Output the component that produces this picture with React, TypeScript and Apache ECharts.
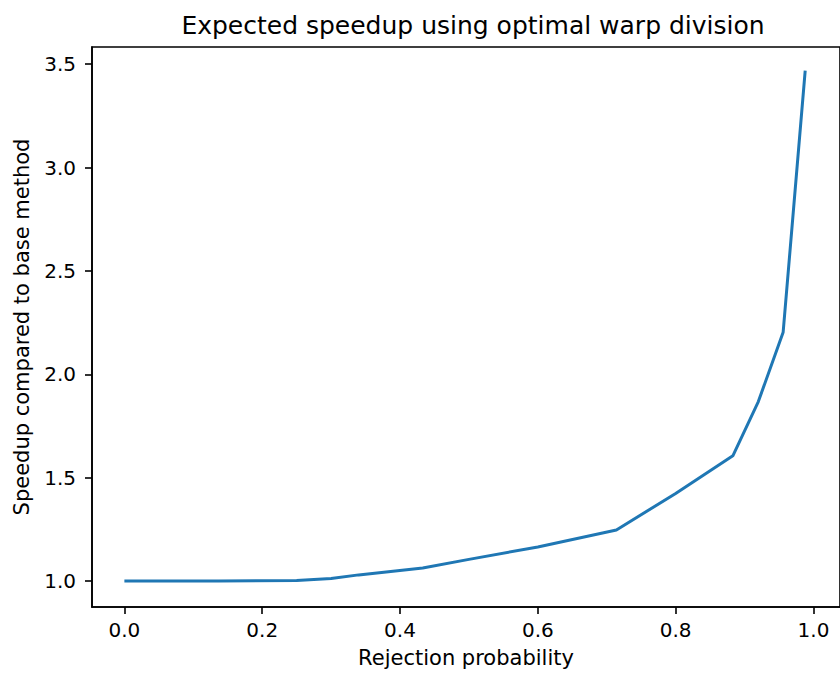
import React, { useEffect, useRef } from "react";
import * as echarts from "echarts";

const titleText = "Expected speedup using optimal warp division";
const xName = "Rejection probability";
const yName = "Speedup compared to base method";

const rejectionProb = [0.0, 0.137, 0.25, 0.3, 0.34, 0.433, 0.5, 0.6, 0.714, 0.8, 0.883, 0.92, 0.956, 0.988];
const speedup = [1.0, 1.0, 1.003, 1.012, 1.03, 1.063, 1.105, 1.165, 1.247, 1.424, 1.606, 1.868, 2.204, 3.469];

const xTicks = [0.0, 0.2, 0.4, 0.6, 0.8, 1.0];
const yTicks = [1.0, 1.5, 2.0, 2.5, 3.0, 3.5];

const FONT = "DejaVu Sans";

export default function App() {
  const ref = useRef<HTMLDivElement>(null);
  useEffect(() => {
    if (!ref.current) return;
    const chart = echarts.init(ref.current, undefined, { renderer: "svg" });
    chart.setOption({
      animation: false,
      backgroundColor: "#ffffff",
      title: {
        text: titleText,
        left: 468,
        top: 8,
        textAlign: "center",
        textStyle: { fontFamily: FONT, fontSize: 25, fontWeight: "normal", color: "#000" },
      },
      grid: {
        left: 92,
        top: 47,
        width: 753,
        height: 562,
        show: true,
        borderColor: "#000",
        borderWidth: 1.6,
        backgroundColor: "transparent",
      },
      xAxis: {
        type: "value",
        min: -0.047,
        max: 1.0385,
        name: xName,
        nameLocation: "middle",
        nameGap: 40,
        nameTextStyle: { fontFamily: FONT, fontSize: 21, color: "#000" },
        axisLine: { show: true, onZero: false, lineStyle: { color: "#000", width: 1.6 } },
        axisTick: { show: true, inside: false, length: 7, customValues: xTicks, lineStyle: { color: "#000", width: 1.6 } },
        axisLabel: {
          customValues: xTicks,
          formatter: (v: number) => v.toFixed(1),
          fontFamily: FONT,
          fontSize: 20,
          color: "#000",
          margin: 13,
        },
        splitLine: { show: false },
      },
      yAxis: {
        type: "value",
        min: 0.8747,
        max: 3.583,
        name: yName,
        nameLocation: "middle",
        nameGap: 60,
        nameTextStyle: { fontFamily: FONT, fontSize: 21, color: "#000" },
        axisLine: { show: true, onZero: false, lineStyle: { color: "#000", width: 1.6 } },
        axisTick: { show: true, inside: false, length: 7, customValues: yTicks, lineStyle: { color: "#000", width: 1.6 } },
        axisLabel: {
          customValues: yTicks,
          formatter: (v: number) => v.toFixed(1),
          fontFamily: FONT,
          fontSize: 20,
          color: "#000",
          margin: 16,
        },
        splitLine: { show: false },
      },
      series: [
        {
          type: "line",
          data: rejectionProb.map((x, i) => [x, speedup[i]]),
          showSymbol: false,
          symbol: "none",
          lineStyle: { color: "#1f77b4", width: 3 },
          clip: false,
        },
      ],
    });
    return () => chart.dispose();
  }, []);
  return (
    <div
      ref={ref}
      style={{ position: "fixed", left: 0, top: 0, width: 840, height: 673, background: "#fff" }}
    />
  );
}
